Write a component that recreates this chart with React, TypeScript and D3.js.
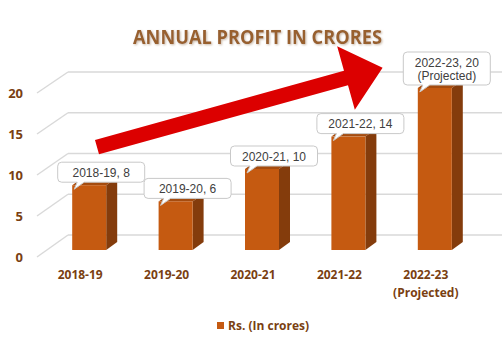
import React from "react";
import * as d3 from "d3";

const categories = ["2018-19", "2019-20", "2020-21", "2021-22", "2022-23"];
const categorySub = ["", "", "", "", "(Projected)"];
const values = [8, 6, 10, 14, 20];
const calloutLines = [
  ["2018-19, 8"],
  ["2019-20, 6"],
  ["2020-21, 10"],
  ["2021-22, 14"],
  ["2022-23, 20", "(Projected)"],
];
const yTicks = [0, 5, 10, 15, 20];
const seriesName = "Rs. (In crores)";
const title = "ANNUAL PROFIT IN CRORES";

const W = 502;
const H = 353;
const BROWN = "#7a3f12";
const FRONT = "#c55a11";
const SIDE = "#843c0c";
const TOP = "#a54c0f";

export default function App() {
  const x = d3.scaleBand<string>().domain(categories).range([46, 478]);
  const yBar = d3.scaleLinear().domain([0, 20]).range([250, 88]);
  const yBack = d3.scaleLinear().domain([0, 20]).range([235, 72]);
  const yFront = d3.scaleLinear().domain([0, 20]).range([257, 93]);
  const barW = 34;
  const dx = 11;
  const dy = 8;
  const wallX = 68;
  const frontX = 37;

  // trend arrow anchored in data space
  const tail = [x(categories[0])! + 51, yBar(12.7)];
  const tip = [x(categories[4])! - 9, yBar(22.5)];
  const ang = Math.atan2(tip[1] - tail[1], tip[0] - tail[0]);
  const ux = Math.cos(ang), uy = Math.sin(ang);
  const px = -uy, py = ux;
  const headLen = 38, shaftHalf = 7.5, headHalf = 33;
  const base = [tip[0] - ux * headLen, tip[1] - uy * headLen];
  const arrowPts = [
    [tail[0] + px * shaftHalf, tail[1] + py * shaftHalf],
    [base[0] + px * shaftHalf, base[1] + py * shaftHalf],
    [base[0] + px * headHalf, base[1] + py * headHalf],
    tip,
    [base[0] - px * headHalf, base[1] - py * headHalf],
    [base[0] - px * shaftHalf, base[1] - py * shaftHalf],
    [tail[0] - px * shaftHalf, tail[1] - py * shaftHalf],
  ];

  return (
    <svg width={W} height={H} style={{ position: "absolute", left: 0, top: 0, background: "#fff" }}>
      <defs>
        <filter id="glow" x="-10%" y="-30%" width="120%" height="160%">
          <feGaussianBlur in="SourceAlpha" stdDeviation="1.2" />
          <feOffset dx="0.5" dy="0.8" result="b" />
          <feFlood floodColor="#c8b8a8" />
          <feComposite in2="b" operator="in" />
          <feMerge>
            <feMergeNode />
            <feMergeNode in="SourceGraphic" />
          </feMerge>
        </filter>
      </defs>

      {/* gridlines */}
      {yTicks.map((t) => (
        <g key={t} stroke="#d9d9d9" strokeWidth={1.5} fill="none">
          <line x1={frontX} y1={yFront(t)} x2={wallX} y2={yBack(t)} />
          <line x1={wallX} y1={yBack(t)} x2={W} y2={yBack(t)} />
        </g>
      ))}

      {/* y tick labels */}
      {yTicks.map((t) => (
        <text key={"yl" + t} x={23} y={yFront(t)} dy="0.35em" textAnchor="end"
          fontFamily="Open Sans" fontWeight={700} fontSize={13} fill={BROWN}>
          {t}
        </text>
      ))}

      {/* bars */}
      {categories.map((c, i) => {
        const bx = x(c)! + (x.bandwidth() - barW) / 2;
        const top = yBar(values[i]);
        const bot = yBar(0);
        return (
          <g key={c}>
            <polygon points={`${bx},${top} ${bx + dx},${top - dy} ${bx + barW + dx},${top - dy} ${bx + barW},${top}`} fill={TOP} />
            <polygon points={`${bx + barW},${top} ${bx + barW + dx},${top - dy} ${bx + barW + dx},${bot - dy} ${bx + barW},${bot}`} fill={SIDE} />
            <rect x={bx} y={top} width={barW} height={bot - top} fill={FRONT} />
          </g>
        );
      })}

      {/* x labels */}
      {categories.map((c, i) => (
        <g key={"xl" + c} fontFamily="Open Sans" fontWeight={700} fontSize={12} fill={BROWN} textAnchor="middle">
          <text x={x(c)! + x.bandwidth() / 2 - 9} y={279}>{c}</text>
          {categorySub[i] && <text x={x(c)! + x.bandwidth() / 2 - 9} y={297}>{categorySub[i]}</text>}
        </g>
      ))}

      {/* red arrow */}
      <polygon points={arrowPts.map((p) => p.join(",")).join(" ")} fill="#dc0000" />

      {/* callouts */}
      {categories.map((c, i) => {
        const bx = x(c)! + (x.bandwidth() - barW) / 2;
        const top = yBar(values[i]);
        const lines = calloutLines[i];
        const bw = 87;
        const bh = lines.length === 1 ? 20 : 33;
        const cx = bx + 29;
        const bb = top - 3;
        const left = cx - bw / 2;
        const tt = bb - bh;
        const path = `M${left + 4},${tt} H${left + bw - 4} Q${left + bw},${tt} ${left + bw},${tt + 4} V${bb - 4} Q${left + bw},${bb} ${left + bw - 4},${bb} H${bx + 12} L${bx + 2},${top + 4} L${bx + 5},${bb} H${left + 4} Q${left},${bb} ${left},${bb - 4} V${tt + 4} Q${left},${tt} ${left + 4},${tt} Z`;
        return (
          <g key={"co" + c}>
            <path d={path} fill="#fff" stroke="#c9c9c9" strokeWidth={1} />
            {lines.map((l, j) => (
              <text key={j} x={cx} y={tt + 14.5 + j * 13.5} textAnchor="middle"
                fontFamily="Liberation Sans, Arial" fontSize={12} fill="#404040">
                {l}
              </text>
            ))}
          </g>
        );
      })}

      {/* title */}
      <text x={257.5} y={44} textAnchor="middle" fontFamily="Open Sans" fontWeight={700} fontSize={20}
        fill="#98602f" textLength={249} lengthAdjust="spacingAndGlyphs" filter="url(#glow)">
        {title}
      </text>

      {/* legend */}
      <rect x={217} y={322} width={7} height={7} fill={FRONT} />
      <text x={228} y={330} fontFamily="Open Sans" fontWeight={700} fontSize={12} fill={BROWN}>
        {seriesName}
      </text>
    </svg>
  );
}
